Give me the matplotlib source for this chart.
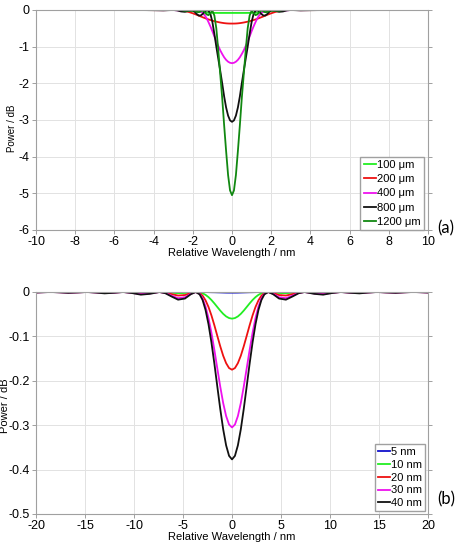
import matplotlib
matplotlib.use("Agg")
import matplotlib.pyplot as plt

plt.rcParams['font.family'] = ['Liberation Sans', 'DejaVu Sans']
plt.rcParams['axes.unicode_minus'] = False

# (a) grating length sweep
x_a = [-10, -8, -6, -5, -4, -3.5, -3.0, -2.8, -2.6, -2.4, -2.2, -2.0, -1.9, -1.8, -1.7, -1.6, -1.5,
       -1.4, -1.3, -1.2, -1.1, -1.0, -0.9, -0.8, -0.7, -0.6, -0.5, -0.4, -0.3, -0.2, -0.1, 0,
       0.1, 0.2, 0.3, 0.4, 0.5, 0.6, 0.7, 0.8, 0.9, 1.0, 1.1, 1.2, 1.3, 1.4, 1.5, 1.6, 1.7, 1.8,
       1.9, 2.0, 2.2, 2.4, 2.6, 2.8, 3.0, 3.5, 4, 5, 6, 8, 10]
p_100 = [0, 0, 0, 0, 0, 0, 0, -.001, -.004, -.010, -.019, -.030, -.036, -.043, -.050, -.057,
         -.063, -.068, -.072, -.075, -.077, -.078, -.079, -.079, -.080, -.080, -.080, -.080, -.080,
         -.080, -.080,
         -.080,
         -.080, -.080, -.080, -.080, -.080, -.080, -.080, -.079, -.079, -.078, -.077, -.075, -.072,
         -.068, -.063, -.057, -.050, -.043, -.036, -.030, -.019, -.010, -.004, -.001,
         0, 0, 0, 0, 0, 0, 0]
p_200 = [0, 0, 0, 0, -.004, -.005, 0, -.002, -.010, -.028, -.055, -.090, -.110, -.131, -.153,
         -.175, -.197, -.218, -.238, -.257, -.274, -.290, -.305, -.318, -.330, -.341, -.350, -.358,
         -.364, -.368, -.370,
         -.370,
         -.370, -.368, -.364, -.358, -.350, -.341, -.330, -.318, -.305, -.290, -.274, -.257, -.238,
         -.218, -.197, -.175, -.153, -.131, -.110, -.090, -.055, -.028, -.010, -.002, 0, -.005,
         -.004, 0, 0, 0, 0]
p_400 = [0, 0, 0, 0, -.003, -.005, 0, -.01, -.02, -.02, -.01, 0, 0, -.01, -.02, -.04, -.08, -.14,
         -.22, -.33, -.45, -.58, -.72, -.86, -.98, -1.10, -1.20, -1.29, -1.36, -1.41, -1.44,
         -1.45,
         -1.44, -1.41, -1.36, -1.29, -1.20, -1.10, -.98, -.86, -.72, -.58, -.45, -.33, -.22, -.14,
         -.08, -.04, -.02, -.01, 0, 0, -.01, -.02, -.02, -.01, 0, -.005, -.003, 0, 0, 0, 0]
p_800 = [0, 0, 0, 0, -.005, -.01, 0, -.01, -.04, -.05, -.02, -.01, -.05, -.11, -.15, -.15, -.11,
         -.05, -.01, -.02, -.11, -.33, -.65, -1.00, -1.33, -1.66, -2.00, -2.36, -2.66, -2.88, -3.01,
         -3.05,
         -3.01, -2.88, -2.66, -2.36, -2.00, -1.66, -1.33, -1.00, -.65, -.33, -.11, -.02, -.01, -.05,
         -.11, -.15, -.15, -.11, -.05, -.01, -.02, -.05, -.04, -.01, 0, -.01, -.005, 0, 0, 0, 0]
p_1200 = [0, 0, 0, 0, 0, 0, 0, 0, 0, -.02, -.02, 0, -.02, -.05, -.06, -.03, -.01, -.05, -.12, -.14,
          -.08, -.02, -.15, -.50, -1.10, -1.75, -2.40, -3.15, -3.85, -4.50, -4.92,
          -5.05,
          -4.92, -4.50, -3.85, -3.15, -2.40, -1.75, -1.10, -.50, -.15, -.02, -.08, -.14, -.12, -.05,
          -.01, -.03, -.06, -.05, -.02, 0, -.02, -.02, 0, 0, 0, 0, 0, 0, 0, 0, 0]
labels_a = ['100 \u03bcm', '200 \u03bcm', '400 \u03bcm', '800 \u03bcm', '1200 \u03bcm']
colors_a = ['#22ee22', '#ee1111', '#ee11ee', '#111111', '#118811']

# (b) index modulation sweep
x_b = [-20, -19.3, -18.5, -17.6, -16.7, -15.7, -14.8, -13.9, -13.0, -12.0, -11.1, -10.2, -9.3,
       -8.4, -7.4, -6.8, -6.2, -5.5, -4.8, -4.2, -3.7, -3.3, -3.0, -2.7, -2.4, -2.1, -1.8, -1.5,
       -1.2, -0.9, -0.6, -0.3, 0, 0.3, 0.6, 0.9, 1.2, 1.5, 1.8, 2.1, 2.4, 2.7, 3.0, 3.3, 3.7, 4.2,
       4.8, 5.5, 6.2, 6.8, 7.4, 8.4, 9.3, 10.2, 11.1, 12.0, 13.0, 13.9, 14.8, 15.7, 16.7, 17.6,
       18.5, 19.3, 20]
p_5 = [0] * 22 + [-.0001, -.0002, -.0003, -.0005, -.0006, -.0008, -.0010, -.0012, -.0014, -.0015,
                  -.0015,
                  -.0015, -.0014, -.0012, -.0010, -.0008, -.0006, -.0005, -.0003, -.0002, -.0001] + [0] * 22
p_10 = [-.0002, -.0001, 0, -.0001, -.0003, -.0002, 0, -.0002, -.0005, -.0003, 0, -.0004, -.0010,
        -.0007, 0, -.0004, -.0016, -.0027, -.0023, -.0008, 0, -.0009, -.0029, -.0064, -.0115,
        -.0180, -.0256, -.0338, -.0419, -.0492, -.0550, -.0587,
        -.0600,
        -.0587, -.0550, -.0492, -.0419, -.0338, -.0256, -.0180, -.0115, -.0064, -.0029, -.0009, 0,
        -.0008, -.0023, -.0027, -.0016, -.0004, 0, -.0007, -.0010, -.0004, 0, -.0003, -.0005,
        -.0002, 0, -.0002, -.0003, -.0001, 0, -.0001, -.0002]
p_20 = [-.0006, -.0003, 0, -.0004, -.0009, -.0005, 0, -.0006, -.0014, -.0008, 0, -.0011, -.0028,
        -.0019, 0, -.0013, -.0046, -.0080, -.0068, -.0023, 0, -.0025, -.0084, -.0187, -.0336,
        -.0526, -.0748, -.0987, -.1222, -.1435, -.1603, -.1713,
        -.1750,
        -.1713, -.1603, -.1435, -.1222, -.0987, -.0748, -.0526, -.0336, -.0187, -.0084, -.0025, 0,
        -.0023, -.0068, -.0080, -.0046, -.0013, 0, -.0019, -.0028, -.0011, 0, -.0008, -.0014,
        -.0006, 0, -.0005, -.0009, -.0004, 0, -.0003, -.0006]
p_30 = [-.0010, -.0005, 0, -.0006, -.0015, -.0008, 0, -.0010, -.0025, -.0014, 0, -.0020, -.0049,
        -.0034, 0, -.0023, -.0080, -.0140, -.0119, -.0041, 0, -.0043, -.0147, -.0327, -.0586,
        -.0917, -.1304, -.1720, -.2130, -.2501, -.2794, -.2985,
        -.3050,
        -.2985, -.2794, -.2501, -.2130, -.1720, -.1304, -.0917, -.0586, -.0327, -.0147, -.0043, 0,
        -.0041, -.0119, -.0140, -.0080, -.0023, 0, -.0034, -.0049, -.0020, 0, -.0014, -.0025,
        -.0010, 0, -.0008, -.0015, -.0006, 0, -.0005, -.0010]
p_40 = [-.0012, -.0006, 0, -.0008, -.0019, -.0010, 0, -.0013, -.0031, -.0017, 0, -.0024, -.0060,
        -.0042, 0, -.0028, -.0098, -.0173, -.0147, -.0050, 0, -.0054, -.0181, -.0404, -.0724,
        -.1133, -.1611, -.2126, -.2633, -.3091, -.3454, -.3690,
        -.3770,
        -.3690, -.3454, -.3091, -.2633, -.2126, -.1611, -.1133, -.0724, -.0404, -.0181, -.0054, 0,
        -.0050, -.0147, -.0173, -.0098, -.0028, 0, -.0042, -.0060, -.0024, 0, -.0017, -.0031,
        -.0013, 0, -.0010, -.0019, -.0008, 0, -.0006, -.0012]
labels_b = ['5 nm', '10 nm', '20 nm', '30 nm', '40 nm']
colors_b = ['#1111cc', '#22ee22', '#ee1111', '#ee11ee', '#111111']

fig = plt.figure(figsize=(4.64, 5.44), dpi=100)
ax_a = fig.add_axes([36 / 464, 1 - 230 / 544, 392 / 464, 220 / 544])
ax_b = fig.add_axes([36 / 464, 1 - 514 / 544, 392 / 464, 222 / 544])


def style(ax):
    ax.grid(True, color='#e2e2e2', linewidth=0.7)
    ax.set_axisbelow(True)
    for s in ax.spines.values():
        s.set_color('#a0a0a0')
        s.set_linewidth(0.8)
    ax.tick_params(direction='out', length=3, width=0.7, color='#a0a0a0',
                   labelsize=9, pad=1.5, right=True)
    ax.set_xlabel('Relative Wavelength / nm', fontsize=8, labelpad=0)


for ys, lab, col in zip([p_100, p_200, p_400, p_800, p_1200], labels_a, colors_a):
    ax_a.plot(x_a, ys, color=col, lw=1.3, label=lab)
ax_a.set_xlim(-10, 10)
ax_a.set_ylim(-6, 0)
ax_a.set_xticks(range(-10, 11, 2))
ax_a.set_yticks(range(-6, 1))
style(ax_a)
ax_a.set_ylabel('Power / dB', fontsize=7)
ax_a.yaxis.set_label_coords(-19 / 392, 0.46)
ax_a.legend(loc='lower right', bbox_to_anchor=(1 - 4 / 392, 0), borderaxespad=0,
            fontsize=8, handlelength=1.1, handletextpad=0.1, borderpad=0.3,
            labelspacing=0.37, fancybox=False, edgecolor='#a0a0a0', framealpha=1)
fig.text(437 / 464, 1 - 228 / 544, '(a)', fontsize=12, family='Lato', va='center')

for ys, lab, col in zip([p_5, p_10, p_20, p_30, p_40], labels_b, colors_b):
    ax_b.plot(x_b, ys, color=col, lw=1.3, label=lab)
ax_b.set_xlim(-20, 20)
ax_b.set_ylim(-0.5, 0)
ax_b.set_xticks(range(-20, 21, 5))
ax_b.set_yticks([-0.5, -0.4, -0.3, -0.2, -0.1, 0])
ax_b.set_yticklabels(['-0.5', '-0.4', '-0.3', '-0.2', '-0.1', '0'])
style(ax_b)
ax_b.set_ylabel('Power / dB', fontsize=8)
ax_b.yaxis.set_label_coords(-26 / 392, 0.49)
ax_b.legend(loc='lower right', bbox_to_anchor=(1 - 3 / 392, 3 / 222), borderaxespad=0,
            fontsize=8, handlelength=1.1, handletextpad=0.1, borderpad=0.25,
            labelspacing=0.25, fancybox=False, edgecolor='#a0a0a0', framealpha=1)
fig.text(437 / 464, 1 - 499 / 544, '(b)', fontsize=12, family='Lato', va='center')

fig.savefig('out.png', dpi=100)
